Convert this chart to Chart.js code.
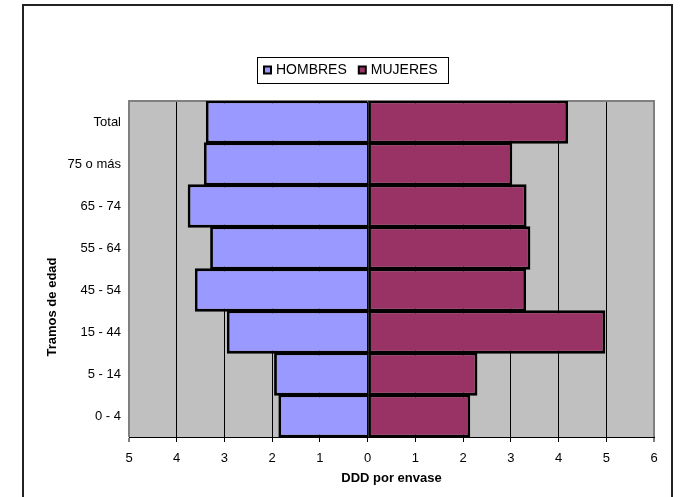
<!DOCTYPE html>
<html lang="es">
<head>
<meta charset="utf-8">
<title>DDD por envase - Tramos de edad</title>
<script src="https://cdn.jsdelivr.net/npm/chart.js@4.4.1/dist/chart.umd.min.js"></script>
<style>
  html, body { margin: 0; padding: 0; background: #fff; overflow: hidden; }
  #marco { position: absolute; left: 22px; top: 4px; width: 651px; height: 600px; border: 2px solid #222; box-sizing: border-box; }
  #grafico { position: absolute; left: 0; top: 0; }
</style>
</head>
<body>
<div id="marco"></div>
<canvas id="grafico" width="682" height="497"></canvas>
<script>
// Datos (de arriba abajo)
const TRAMOS = ['Total', '75 o más', '65 - 74', '55 - 64', '45 - 54', '15 - 44', '5 - 14', '0 - 4'];
const HOMBRES = [3.39, 3.43, 3.77, 3.30, 3.62, 2.95, 1.96, 1.87];
const MUJERES = [4.20, 3.03, 3.33, 3.41, 3.32, 4.98, 2.30, 2.15];
const SERIES = ['HOMBRES', 'MUJERES'];
const ETIQUETAS_X = ['5', '4', '3', '2', '1', '0', '1', '2', '3', '4', '5', '6'];
const TITULO_X = 'DDD por envase';
const TITULO_Y = 'Tramos de edad';

const FUENTE = '"Liberation Sans", Arial, sans-serif';
const X_MIN = -5, X_MAX = 6;

// Fondo gris del área de trazado
const fondo = {
    id: 'fondo',
    beforeDraw(chart) {
        const a = chart.chartArea;
        chart.ctx.save();
        chart.ctx.fillStyle = '#C0C0C0';
        chart.ctx.fillRect(a.left, a.top, a.right - a.left, a.bottom - a.top);
        chart.ctx.restore();
    }
};

// Borde gris izquierda / arriba / derecha
const borde = {
    id: 'borde',
    beforeDatasetsDraw(chart) {
        const a = chart.chartArea;
        const ctx = chart.ctx;
        ctx.save();
        ctx.strokeStyle = '#808080';
        ctx.lineWidth = 2;
        ctx.beginPath();
        ctx.moveTo(a.left, a.bottom);
        ctx.lineTo(a.left, a.top);
        ctx.lineTo(a.right, a.top);
        ctx.lineTo(a.right, a.bottom);
        ctx.stroke();
        ctx.restore();
    }
};

// Leyenda con recuadro, como en Excel
const leyenda = {
    id: 'leyenda',
    afterDraw(chart) {
        const ctx = chart.ctx;
        ctx.save();
        ctx.strokeStyle = '#000';
        ctx.lineWidth = 1;
        ctx.strokeRect(257.5, 57.5, 191, 26);
        ctx.font = '14px ' + FUENTE;
        ctx.textBaseline = 'middle';
        ctx.textAlign = 'left';
        let x = 263;
        const y = 70;
        chart.data.datasets.forEach(ds => {
            ctx.fillStyle = '#000';
            ctx.fillRect(x, y - 4.5, 9, 9);
            ctx.fillStyle = ds.backgroundColor;
            ctx.fillRect(x + 2, y - 2.5, 5, 5);
            ctx.fillStyle = '#000';
            ctx.fillText(ds.label, x + 13, y);
            x += 13 + ctx.measureText(ds.label).width + 11;
        });
        ctx.restore();
    }
};

// Título del eje Y (algo desplazado hacia abajo en el original)
const tituloY = {
    id: 'tituloY',
    afterDraw(chart) {
        const ctx = chart.ctx;
        ctx.save();
        ctx.translate(52, 307);
        ctx.rotate(-Math.PI / 2);
        ctx.font = 'bold 13px ' + FUENTE;
        ctx.fillStyle = '#000';
        ctx.textAlign = 'center';
        ctx.textBaseline = 'middle';
        ctx.fillText(TITULO_Y, 0, 0);
        ctx.restore();
    }
};

const chart = new Chart(document.getElementById('grafico'), {
    type: 'bar',
    data: {
        labels: TRAMOS,
        datasets: [{
            label: SERIES[0],
            data: HOMBRES.map(v => -v),
            backgroundColor: '#9999FF',
            borderColor: '#000',
            borderWidth: 2.8,
            borderSkipped: 'start'
        }, {
            label: SERIES[1],
            data: MUJERES,
            backgroundColor: '#993366',
            borderColor: '#000',
            borderWidth: 2.8,
            borderSkipped: false
        }]
    },
    options: {
        indexAxis: 'y',
        responsive: false,
        animation: false,
        devicePixelRatio: 1,
        barPercentage: 1.03,
        categoryPercentage: 1,
        layout: { padding: { left: 0, right: 28, top: 101, bottom: 4 } },
        scales: {
            x: {
                stacked: true,
                min: X_MIN,
                max: X_MAX,
                ticks: {
                    stepSize: 1,
                    color: '#000',
                    font: { family: FUENTE, size: 13 },
                    padding: 9,
                    maxRotation: 0,
                    callback: (v, i) => ETIQUETAS_X[i]
                },
                grid: {
                    color: c => (c.tick && (c.tick.value === X_MIN || c.tick.value === X_MAX)) ? '#808080' : '#000',
                    lineWidth: c => (c.tick && (c.tick.value === X_MIN || c.tick.value === X_MAX)) ? 2 : 1,
                    tickColor: '#000',
                    tickWidth: 1,
                    tickLength: 5
                },
                border: { color: '#000', width: 1 },
                title: {
                    display: true,
                    text: TITULO_X,
                    color: '#000',
                    font: { family: FUENTE, size: 13, weight: 'bold' },
                    padding: { top: 4, bottom: 7 }
                },
                afterFit: s => { s.height = 56; }
            },
            y: {
                stacked: true,
                ticks: {
                    color: '#000',
                    font: { family: FUENTE, size: 13 },
                    padding: 8
                },
                grid: { display: false, drawTicks: false },
                border: { display: false },
                afterFit: s => { s.width = 129; }
            }
        },
        plugins: {
            legend: { display: false },
            tooltip: { enabled: false }
        }
    },
    plugins: [fondo, borde, leyenda, tituloY]
});
</script>
</body>
</html>
